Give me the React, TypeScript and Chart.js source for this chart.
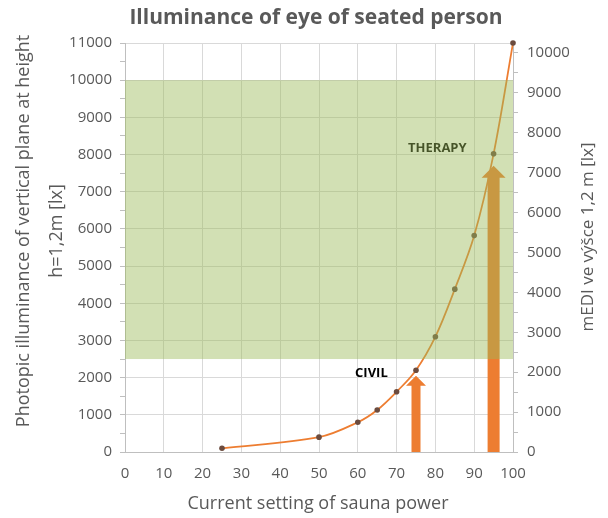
import { useEffect, useRef } from 'react';
import { Chart, registerables } from 'chart.js';

Chart.register(...registerables);

// ---- data ----
const powerSettings = [25, 50, 60, 65, 70, 75, 80, 85, 90, 95, 100];
const photopicLux = [100, 400, 800, 1130, 1620, 2200, 3100, 4380, 5820, 8020, 11000];
const leftAxisMax = 11000;
const rightAxisMax = 10250;
const rightTickValues = [0, 500, 1000, 1500, 2000, 2500, 3000, 3500, 4000, 4500, 5000, 5500, 6000, 6500, 7000, 7500, 8000, 8500, 9000, 9500, 10000];
const xAxisMax = 100;
const therapyBand = [2500, 10000];
const arrowX = [75, 95];
const arrowTop = [2050, 7700];
const zoneLabels = ['CIVIL', 'THERAPY'];
const zoneLabelX = [63.5, 80.5];
const zoneLabelY = [2130, 8180];

const chartTitle = 'Illuminance of eye of seated person';
const xTitle = 'Current setting of sauna power';
const yTitle = ['Photopic illuminance of vertical plane at height', 'h=1,2m [lx]'];
const y1Title = 'mEDI ve výšce 1,2 m [lx]';

const FONT = "'Open Sans', 'DejaVu Sans', sans-serif";
const TEXT = '#595959';
const GRID = '#d9d9d9';
const AXIS = '#bfbfbf';
const ORANGE = '#ED7D31';

const decorPlugin = {
  id: 'decor',
  beforeDatasetsDraw(chart: any) {
    const { ctx } = chart;
    const xs = chart.scales.x;
    const ys = chart.scales.y;
    ctx.save();
    const shaftW = [9, 12];
    const headW = [20, 24];
    const headH = [10, 12];
    arrowX.forEach((xv, i) => {
      const px = xs.getPixelForValue(xv);
      const top = ys.getPixelForValue(arrowTop[i]);
      const bottom = ys.getPixelForValue(0);
      ctx.fillStyle = ORANGE;
      ctx.beginPath();
      ctx.moveTo(px - shaftW[i] / 2, bottom);
      ctx.lineTo(px - shaftW[i] / 2, top + headH[i]);
      ctx.lineTo(px - headW[i] / 2, top + headH[i]);
      ctx.lineTo(px, top);
      ctx.lineTo(px + headW[i] / 2, top + headH[i]);
      ctx.lineTo(px + shaftW[i] / 2, top + headH[i]);
      ctx.lineTo(px + shaftW[i] / 2, bottom);
      ctx.closePath();
      ctx.fill();
    });
    ctx.fillStyle = '#000000';
    ctx.font = `bold 13px ${FONT}`;
    ctx.textAlign = 'center';
    ctx.textBaseline = 'middle';
    zoneLabels.forEach((t, i) => {
      ctx.fillText(t, xs.getPixelForValue(zoneLabelX[i]), ys.getPixelForValue(zoneLabelY[i]));
    });
    ctx.restore();
  },
  afterDatasetsDraw(chart: any) {
    const { ctx, chartArea } = chart;
    const ys = chart.scales.y;
    const y0 = ys.getPixelForValue(therapyBand[0]);
    const y1 = ys.getPixelForValue(therapyBand[1]);
    ctx.save();
    ctx.fillStyle = 'rgba(155,187,89,0.45)';
    ctx.fillRect(chartArea.left, y1, chartArea.right - chartArea.left, y0 - y1);
    ctx.restore();
  },
  afterDraw(chart: any) {
    const { ctx } = chart;
    ctx.save();
    ctx.fillStyle = TEXT;
    ctx.textAlign = 'center';
    ctx.textBaseline = 'middle';
    ctx.font = `bold 21px ${FONT}`;
    ctx.fillText(chartTitle, 316, 18);
    ctx.font = `18px ${FONT}`;
    ctx.fillText(xTitle, 318, 504);
    ctx.save();
    ctx.translate(24, 231);
    ctx.rotate(-Math.PI / 2);
    ctx.fillText(yTitle[0], 0, 0);
    ctx.restore();
    ctx.save();
    ctx.translate(57, 231);
    ctx.rotate(-Math.PI / 2);
    ctx.fillText(yTitle[1], 0, 0);
    ctx.restore();
    ctx.font = `17px ${FONT}`;
    ctx.save();
    ctx.translate(588, 237);
    ctx.rotate(-Math.PI / 2);
    ctx.fillText(y1Title, 0, 0);
    ctx.restore();
    ctx.restore();
  },
};

export default function App() {
  const ref = useRef<HTMLCanvasElement | null>(null);
  useEffect(() => {
    if (!ref.current) return;
    const chart = new Chart(ref.current, {
      type: 'line',
      data: {
        datasets: [
          {
            label: 'Photopic',
            data: powerSettings.map((x, i) => ({ x, y: photopicLux[i] })),
            borderColor: ORANGE,
            backgroundColor: ORANGE,
            borderWidth: 1.75,
            tension: 0.35,
            pointRadius: 2.8,
            pointBackgroundColor: '#6b4b3e',
            pointBorderColor: '#6b4b3e',
            pointBorderWidth: 0,
            clip: false,
            yAxisID: 'y',
          },
        ],
      },
      options: {
        animation: false,
        responsive: false,
        devicePixelRatio: 1,
        layout: { padding: { top: 43, left: 0, right: 0, bottom: 0 } },
        plugins: { legend: { display: false }, tooltip: { enabled: false }, title: { display: false } },
        scales: {
          x: {
            type: 'linear',
            min: 0,
            max: xAxisMax,
            afterFit: (s: any) => { s.height = 66; },
            ticks: { stepSize: 10, color: TEXT, font: { family: FONT, size: 15 }, padding: 13, autoSkip: false },
            grid: { color: GRID, drawTicks: false },
            border: { color: AXIS },
          },
          y: {
            type: 'linear',
            position: 'left',
            min: 0,
            max: leftAxisMax,
            afterFit: (s: any) => { s.width = 125; },
            ticks: {
              stepSize: 500,
              autoSkip: false,
              color: TEXT,
              font: { family: FONT, size: 15 },
              padding: 8,
              callback: (v: any) => (v % 1000 === 0 ? String(v) : ''),
            },
            grid: {
              color: (c: any) => (c.tick && c.tick.value % 1000 === 0 ? GRID : 'rgba(0,0,0,0)'),
              tickColor: AXIS,
              tickLength: 5,
            },
            border: { color: AXIS },
          },
          y1: {
            type: 'linear',
            position: 'right',
            min: 0,
            max: rightAxisMax,
            afterFit: (s: any) => { s.width = 95; },
            afterBuildTicks: (s: any) => { s.ticks = rightTickValues.map((value) => ({ value })); },
            ticks: {
              autoSkip: false,
              color: TEXT,
              font: { family: FONT, size: 15 },
              padding: 9,
              callback: (v: any) => (v % 1000 === 0 ? String(v) : ''),
            },
            grid: {
              drawOnChartArea: false,
              tickColor: AXIS,
              tickLength: 5,
            },
            border: { color: AXIS },
          },
        },
      },
      plugins: [decorPlugin],
    });
    return () => chart.destroy();
  }, []);
  return (
    <div style={{ position: 'absolute', left: 0, top: 0, width: 608, height: 518 }}>
      <canvas ref={ref} width={608} height={518} />
    </div>
  );
}
